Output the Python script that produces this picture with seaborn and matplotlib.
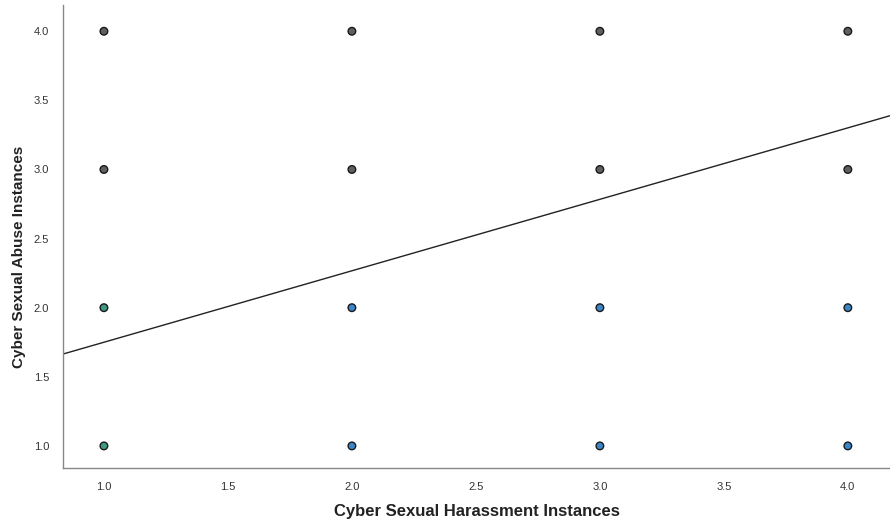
import matplotlib
matplotlib.use("Agg")
import matplotlib.pyplot as plt
import seaborn as sns
import numpy as np
import pandas as pd

x_vals = [1, 2, 3, 4, 1, 2, 3, 4, 1, 2, 3, 4, 1, 2, 3, 4]
y_vals = [4, 4, 4, 4, 3, 3, 3, 3, 2, 2, 2, 2, 1, 1, 1, 1]
groups = ["g", "g", "g", "g", "g", "g", "g", "g",
          "t", "b", "b", "b", "t", "b", "b", "b"]
palette = {"g": "#5f5f5f", "t": "#3d9a80", "b": "#3a86c8"}
fit_slope = 0.517
fit_intercept = 1.233
x_ticks = [1.0, 1.5, 2.0, 2.5, 3.0, 3.5, 4.0]
y_ticks = [1.0, 1.5, 2.0, 2.5, 3.0, 3.5, 4.0]

df = pd.DataFrame({"x": x_vals, "y": y_vals, "grp": groups})

sns.set_theme(style="white")
plt.rcParams["font.family"] = ["Liberation Sans", "DejaVu Sans"]

fig = plt.figure(figsize=(8.9, 5.31), dpi=100)
ax = fig.add_axes([0.0708, 0.1186, 0.9292, 0.872])

sns.scatterplot(data=df, x="x", y="y", hue="grp", palette=palette, s=30,
                edgecolor="#1a1a1a", linewidth=1.0, legend=False, ax=ax, zorder=3)

xlim = (0.835, 4.17)
ax.set_xlim(xlim)
ax.set_ylim(0.84, 4.19)
xs = np.array(xlim)
ax.plot(xs, fit_intercept + fit_slope * xs, color="#222222", lw=1.0, zorder=2)

ax.set_xticks(x_ticks)
ax.set_yticks(y_ticks)
ax.set_xticklabels([f"{v:.1f}" for v in x_ticks], fontsize=8, color="#333333")
ax.set_yticklabels([f"{v:.1f}" for v in y_ticks], fontsize=8, color="#333333")
ax.tick_params(axis="both", length=0, pad=10)

for s in ["top", "right"]:
    ax.spines[s].set_visible(False)
for s in ["left", "bottom"]:
    ax.spines[s].set_color("#888888")
    ax.spines[s].set_linewidth(1.0)

ax.set_xlabel("Cyber Sexual Harassment Instances", fontsize=12, fontweight="bold",
              color="#222222", labelpad=9)
ax.set_ylabel("Cyber Sexual Abuse Instances", fontsize=11, fontweight="bold",
              color="#222222")
ax.yaxis.set_label_coords(-0.045, 0.456)

fig.savefig("out.png", dpi=100)
